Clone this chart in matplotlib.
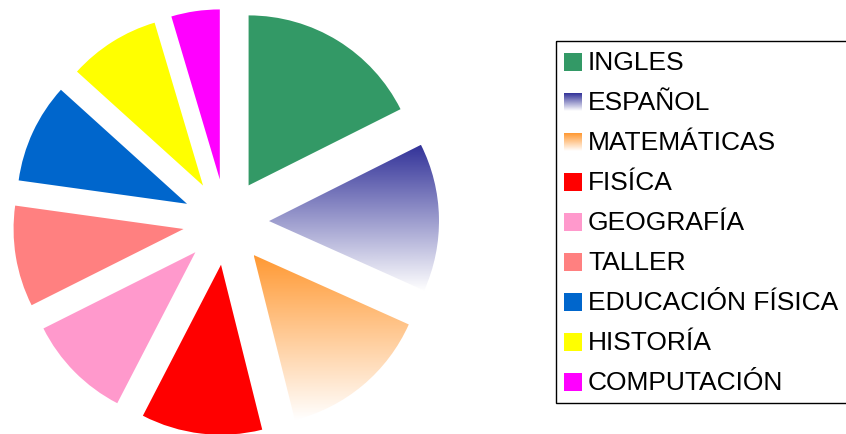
import matplotlib
matplotlib.use("Agg")
import matplotlib.pyplot as plt
import numpy as np
from matplotlib.patches import Rectangle
from matplotlib.colors import LinearSegmentedColormap

# materias y porcentaje de la grafica
materias = ["INGLES", "ESPAÑOL", "MATEMÁTICAS", "FISÍCA", "GEOGRAFÍA", "TALLER",
            "EDUCACIÓN FÍSICA", "HISTORÍA", "COMPUTACIÓN"]
porcentajes = [17.6, 14.1, 14.4, 11.5, 10.0, 9.6, 9.5, 8.7, 4.6]
colores = ["#339966", "#333399", "#ff9933", "#ff0000", "#ff99cc", "#ff8080",
           "#0066cc", "#ffff00", "#ff00ff"]
degradado = [False, True, True, False, False, False, False, False, False]

plt.rcParams["font.family"] = ["Liberation Sans", "DejaVu Sans"]

W, H = 846, 434
fig = plt.figure(figsize=(W / 100, H / 100), dpi=100)

# pastel: radio 170 px, centro en (226, 222)
R = 170
lim = 1.3
ax = fig.add_axes([(226 - lim * R) / W, (H - 222 - lim * R) / H, 2 * lim * R / W, 2 * lim * R / H])
ax.set_aspect("equal")
ax.axis("off")

wedges, _ = ax.pie(porcentajes, explode=[0.253] * len(porcentajes), startangle=90,
                   counterclock=False, colors=colores, normalize=True)

def cmap_blanco(c):
    return LinearSegmentedColormap.from_list("g", ["white", c])

for w, c, g in zip(wedges, colores, degradado):
    w.set_linewidth(0)
    if g:
        w.set_facecolor("none")
        bb = w.get_path().get_extents()
        grad = np.linspace(0, 1, 256).reshape(-1, 1)
        im = ax.imshow(grad, cmap=cmap_blanco(c), origin="lower", aspect="auto",
                       extent=[bb.x0, bb.x1, bb.y0, bb.y1], zorder=w.get_zorder())
        im.set_clip_path(w)
ax.set_xlim(-lim, lim)
ax.set_ylim(-lim, lim)

# leyenda en pixeles
lg = fig.add_axes([0, 0, 1, 1])
lg.axis("off")
lg.add_patch(Rectangle((555.5, 40.5), 300, 362, fill=False, edgecolor="black", linewidth=1))
for i, (m, c, g) in enumerate(zip(materias, colores, degradado)):
    yc = 62 + 40 * i
    if g:
        grad = np.linspace(0, 1, 64).reshape(-1, 1)
        lg.imshow(grad, cmap=cmap_blanco(c), origin="lower", aspect="auto",
                  extent=[564, 582, yc + 9, yc - 9])
    else:
        lg.add_patch(Rectangle((564, yc - 9), 18, 18, facecolor=c, edgecolor="none"))
    lg.text(588, yc + 1, m, fontsize=19, va="center", ha="left", color="black")
lg.set_xlim(0, W)
lg.set_ylim(H, 0)

fig.savefig("out.png", dpi=100)
